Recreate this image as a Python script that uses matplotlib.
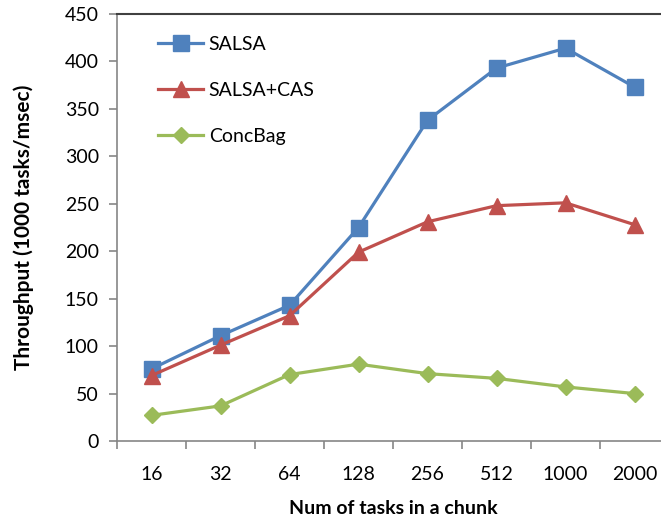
import numpy as np
import matplotlib.pyplot as plt
from matplotlib.ticker import FixedLocator, NullFormatter, FixedFormatter

chunk_sizes = ['16', '32', '64', '128', '256', '512', '1000', '2000']
salsa = [76, 111, 143, 225, 338, 393, 414, 373]
salsa_cas = [69, 101, 132, 199, 231, 248, 251, 228]
concbag = [27, 37, 70, 81, 71, 66, 57, 50]

plt.rcParams['font.family'] = ['Lato', 'DejaVu Sans']

fig = plt.figure(figsize=(6.61, 5.18), dpi=100)
ax = fig.add_axes([117 / 661, 77 / 518, 552 / 661, 427 / 518])

x = np.arange(len(chunk_sizes))
ax.plot(x, salsa, color='#4F81BD', lw=2.3, marker='s', ms=11, label='SALSA')
ax.plot(x, salsa_cas, color='#C0504D', lw=2.3, marker='^', ms=12, label='SALSA+CAS')
ax.plot(x, concbag, color='#9BBB59', lw=2.3, marker='D', ms=8.5, label='ConcBag')

ax.set_xlim(-0.5, len(chunk_sizes) - 0.5)
ax.set_ylim(0, 450)
ax.set_yticks(range(0, 451, 50))

# category labels centred, tick marks between categories
ax.xaxis.set_major_locator(FixedLocator(np.arange(-0.5, len(chunk_sizes), 1.0)))
ax.xaxis.set_major_formatter(NullFormatter())
ax.xaxis.set_minor_locator(FixedLocator(x))
ax.xaxis.set_minor_formatter(FixedFormatter(chunk_sizes))
ax.tick_params(axis='x', which='major', length=6, width=1.2, color='#868686')
ax.tick_params(axis='x', which='minor', length=0, pad=18, labelsize=14)
ax.tick_params(axis='y', length=6, width=1.2, color='#868686', labelsize=14, pad=7)

for s in ['left', 'bottom']:
    ax.spines[s].set_color('#868686')
    ax.spines[s].set_linewidth(1.2)
ax.spines['top'].set_color('#404040')
ax.spines['top'].set_linewidth(1.5)
ax.spines['right'].set_visible(False)

ax.set_xlabel('Num of tasks in a chunk', fontsize=14, fontweight='bold', labelpad=12)
ax.set_ylabel('Throughput (1000 tasks/msec)', fontsize=15, fontweight='bold', labelpad=22)

ax.legend(loc='upper left', bbox_to_anchor=(0.043, 0.99), frameon=False, fontsize=14,
          handlelength=2.3, labelspacing=1.5, handletextpad=0.3)

fig.savefig('out.png', dpi=100)
